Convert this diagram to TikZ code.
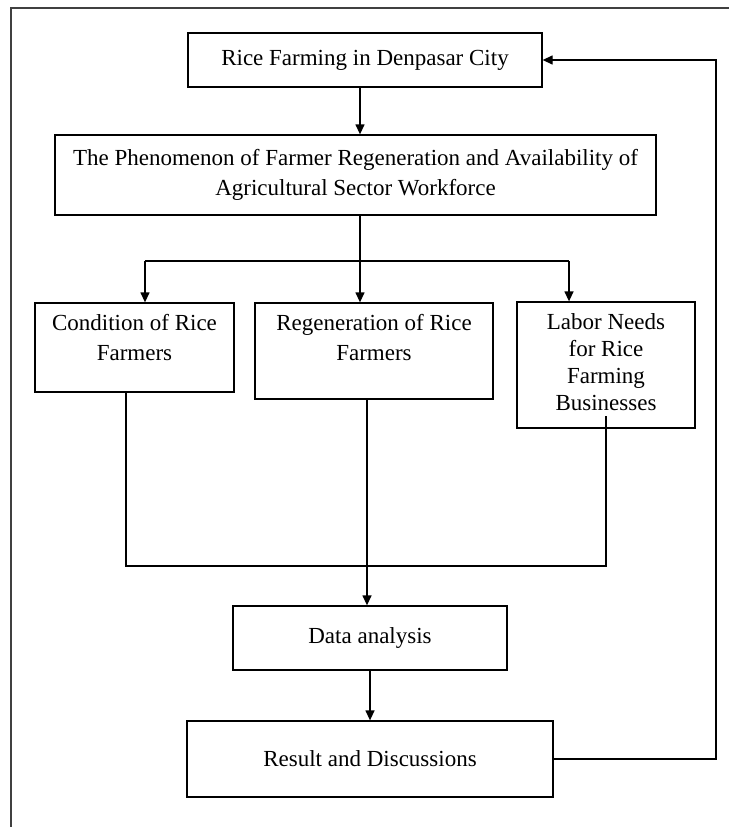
\documentclass[tikz,border=0pt]{standalone}
\usepackage{fontspec}
\setmainfont{Liberation Serif}
\usetikzlibrary{arrows.meta}
\tikzset{
  stage/.style={draw, line width=1.3pt, inner sep=0pt, align=center, font=\fontsize{23}{30}\selectfont},
  flow/.style={line width=1.3pt},
  >={Triangle[length=10pt,width=9pt]}
}
% text set from the top of a box
\newcommand{\toptext}[3]{\parbox[c][#2pt][t]{#1pt}{\centering\rule{0pt}{27pt}#3}}

\begin{document}
\begin{tikzpicture}[x=1pt,y=-1pt]
\useasboundingbox (0,0) rectangle (729,827);
% outer frame
\draw[line width=1.4pt, black!75] (11,827) -- (11,8) -- (729,8);
\node[stage, minimum width=354, minimum height=54] (rice) at (365,60) {Rice Farming in Denpasar City};
\node[stage, minimum width=601, minimum height=80] (pheno) at (355.5,175) {The Phenomenon of Farmer Regeneration and Availability of\\Agricultural Sector Workforce};
\node[stage, minimum width=199, minimum height=89] (cond) at (134.5,347.5) {\toptext{195}{89}{Condition of Rice\\Farmers}};
\node[stage, minimum width=238, minimum height=96] (regen) at (374,351) {\toptext{230}{96}{Regeneration of Rice\\Farmers}};
\node[stage, minimum width=178, minimum height=126] (labor) at (606,365) {\toptext{170}{126}{\fontsize{23}{27}\selectfont Labor Needs\\for Rice\\Farming\\Businesses}};
\node[stage, minimum width=274, minimum height=64] (data) at (370,638) {Data analysis};
\node[stage, minimum width=366, minimum height=76] (result) at (370,759) {Result and Discussions};
\coordinate (split) at (360,261);
\coordinate (splitl) at (145,261);
\coordinate (splitr) at (569,261);
\coordinate (join) at (367,566);
\coordinate (joinl) at (126,566);
\coordinate (joinr) at (606,566);
\coordinate (labortail) at (606,416);
\coordinate (back) at (716,60);
\draw[flow,->] (rice.south -| split) -- (pheno.north -| split);
\draw[flow] (pheno.south -| split) -- (split);
\draw[flow] (splitl) -- (splitr);
\draw[flow,->] (splitl) -- (splitl |- cond.north);
\draw[flow,->] (split) -- (split |- regen.north);
\draw[flow,->] (splitr) -- (splitr |- labor.north);
\draw[flow] (cond.south -| joinl) -- (joinl) -- (joinr) -- (labortail);
\draw[flow,->] (regen.south -| join) -- (join |- data.north);
\draw[flow,->] (data.south) -- (result.north);
\draw[flow,->] (result.east) -| (back) -- (rice.east);
\end{tikzpicture}
\end{document}
